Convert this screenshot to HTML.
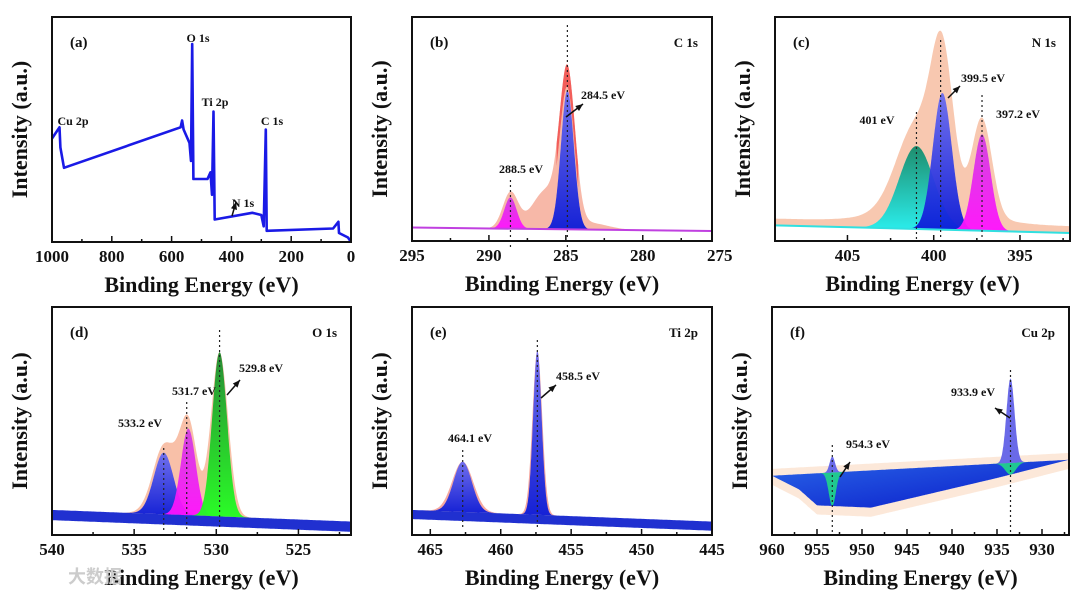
<!DOCTYPE html>
<html><head><meta charset="utf-8"><style>
body{margin:0;background:#fff;width:1080px;height:597px;overflow:hidden}
svg{display:block;font-family:"Liberation Serif",serif;font-weight:bold}
</style></head><body>
<svg id="fig" width="1080" height="597" viewBox="0 0 1080 597">
<defs>
<linearGradient id="gBlue" x1="0" y1="0" x2="0" y2="1"><stop offset="0" stop-color="#6a6cf0"/><stop offset="1" stop-color="#0a1ad8"/></linearGradient>
<linearGradient id="gMag" x1="0" y1="0" x2="0" y2="1"><stop offset="0" stop-color="#d040e0"/><stop offset="1" stop-color="#ff10ff"/></linearGradient>
<linearGradient id="gGreen" x1="0" y1="0" x2="0" y2="1"><stop offset="0" stop-color="#1e8a30"/><stop offset="1" stop-color="#20ff20"/></linearGradient>
<linearGradient id="gTeal" x1="0" y1="0" x2="0" y2="1"><stop offset="0" stop-color="#138a6a"/><stop offset="1" stop-color="#20f0f0"/></linearGradient>
<linearGradient id="gBg" x1="0" y1="0" x2="1" y2="1"><stop offset="0" stop-color="#2a66e8"/><stop offset="1" stop-color="#0818c8"/></linearGradient>
</defs>
</svg>
<script>
// ---- data ----
const surveyE=[1000,975,972,960,570,565,560,540,535,531,527,480,470,465,460,456,330,300,292,285,282,60,42,40,10,0];
const surveyI=[0.46,0.51,0.42,0.33,0.51,0.54,0.50,0.44,0.36,0.88,0.28,0.28,0.31,0.21,0.58,0.10,0.13,0.12,0.07,0.50,0.05,0.06,0.09,0.04,0.02,0.0];
const cPeaks=[284.9,288.6], cHeights=[0.62,0.14], cSig=[0.42,0.4];
const nPeaks=[401,399.5,397.2], nHeights=[0.37,0.61,0.43], nSig=[1.0,0.55,0.5];
const oPeaks=[533.2,531.7,529.8], oHeights=[0.27,0.38,0.72], oSig=[0.6,0.45,0.45];
const tPeaks=[462.7,457.4], tHeights=[0.22,0.72], tSig=[0.65,0.3];
const cuPeaks=[953.3,933.5], cuHeights=[0.07,0.37], cuSig=[0.3,0.45];
const cuBgE=[960,957,955,949,935,927], cuBgLow=[0.26,0.20,0.13,0.12,0.25,0.33];

const svg=document.getElementById('fig');
const NS='http://www.w3.org/2000/svg';
function mk(tag,attrs,parent){const e=document.createElementNS(NS,tag);for(const k in attrs)e.setAttribute(k,attrs[k]);(parent||svg).appendChild(e);return e;}
function txt(s,x,y,size,anchor,parent,rot){const t=mk('text',{x:x,y:y,'font-size':size,'text-anchor':anchor||'middle',fill:'#111'},parent);if(rot)t.setAttribute('transform',`rotate(-90 ${x} ${y})`);t.textContent=s;return t;}

function panel(id,L,R,T,B,emax,emin,ticks,letter,title){
  const g=mk('g',{});
  
  
  const xs=e=>L+(emax-e)/(emax-emin)*(R-L);
  const ys=v=>B-v*(B-T);
  return {g,xs,ys,finish(){
    const box=mk('rect',{x:L,y:T,width:R-L,height:B-T,fill:'none',stroke:'#111','stroke-width':2},g);
    
    
    const step=ticks.length>1?(ticks[0]-ticks[1])/2:0;
    for(let e=ticks[0];e>=emin-1e-6;e-=step){const x=xs(e);if(x<L-1||x>R+1)continue;mk('line',{x1:x,x2:x,y1:B,y2:B-(ticks.includes(Math.round(e*10)/10)?6:3),stroke:'#111','stroke-width':1.5},g);}
    ticks.forEach(e=>{const t=txt(String(e),xs(e),B+20,17,'middle',g);});
    const xt=txt('Binding Energy (eV)',(L+R)/2,B+50,22,'middle',g);
    
    const yt=txt('Intensity (a.u.)',L-25,(T+B)/2,22,'middle',g,true);
    
    const lt=txt('('+letter+')',L+18,T+30,15,'start',g);
    
    if(title){const tt=txt(title,R-14,T+30,13,'end',g);}
  }};
}
function gauss(e,c,h,s){return h*Math.exp(-0.5*((e-c)/s)**2);}
function areaPath(p,emax,emin,fTop,fBot){let d='';const n=300;for(let i=0;i<=n;i++){const e=emax-(emax-emin)*i/n;d+=(i?'L':'M')+p.xs(e).toFixed(1)+','+p.ys(fTop(e)).toFixed(1);}for(let i=n;i>=0;i--){const e=emax-(emax-emin)*i/n;d+='L'+p.xs(e).toFixed(1)+','+p.ys(fBot(e)).toFixed(1);}return d+'Z';}
function drawPeaks(p,emax,emin,peaks,hs,ss,fills,bg,env,envColor){
  const ep=mk('path',{d:areaPath(p,emax,emin,env,bg),fill:envColor||'#f7b8a8'},p.g);
  
  peaks.forEach((c,i)=>{
    const lo=Math.max(emin,c-4*ss[i]),hi=Math.min(emax,c+4*ss[i]);
    const pk=mk('path',{d:areaPath(p,hi,lo,e=>bg(e)+gauss(e,c,hs[i],ss[i]),bg),fill:fills[i],opacity:0.95},p.g);
    
  });
}
const sumP=(e,peaks,hs,ss,k)=>peaks.reduce((a,c,i)=>a+gauss(e,c,hs[i],ss[i]*k),0);
function vdot(p,e,y1,y2){const l=mk('line',{x1:p.xs(e),x2:p.xs(e),y1:y1,y2:y2,stroke:'#222','stroke-width':1.2,'stroke-dasharray':'2,3'},p.g);}
function lab(p,s,x,y){const t=txt(s,x,y,12,'middle',p.g);}
function arrow(p,x1,y1,x2,y2){const l=mk('line',{x1,y1,x2,y2,stroke:'#111','stroke-width':1.5},p.g);const a=Math.atan2(y2-y1,x2-x1);mk('polygon',{points:`${x2},${y2} ${x2-8*Math.cos(a-0.4)},${y2-8*Math.sin(a-0.4)} ${x2-8*Math.cos(a+0.4)},${y2-8*Math.sin(a+0.4)}`,fill:'#111'},p.g);}

// (a) survey
{const p=panel('a',52,351,17,242,1000,0,[1000,800,600,400,200,0],'a');
 let d='';surveyE.forEach((e,i)=>{d+=(i?'L':'M')+p.xs(e).toFixed(1)+','+p.ys(surveyI[i]).toFixed(1);});
 const l=mk('path',{d,fill:'none',stroke:'#1a1ae6','stroke-width':2.6,'stroke-linejoin':'round'},p.g);
 lab(p,'O 1s',198,42);lab(p,'Ti 2p',215,106);lab(p,'C 1s',272,125);lab(p,'Cu 2p',73,125);lab(p,'N 1s',243,207);
 arrow(p,232,216,236,202);p.finish();}
// (b) C 1s
{const p=panel('b',412,712,17,241,295,275.5,[295,290,285,280,275],'b','C 1s');
 const bg=e=>0.06-(295-e)*0.0008;
 const env=e=>bg(e)+gauss(e,284.9,0.67,0.5)+gauss(e,286.3,0.17,0.9)+gauss(e,288.6,0.16,0.5)+gauss(e,283.5,0.03,1.2);
 drawPeaks(p,295,275.5,cPeaks,cHeights,cSig,['url(#gBlue)','url(#gMag)'],bg,env);
 mk('path',{d:areaPath(p,285.6,284.2,e=>env(e),e=>Math.max(bg(e),env(e)-0.1)),fill:'#f04040',opacity:0.75},p.g);
 mk('line',{x1:p.xs(295),y1:p.ys(bg(295)),x2:p.xs(275.5),y2:p.ys(bg(275.5)),stroke:'#c040e0','stroke-width':2},p.g);
 vdot(p,284.9,25,250);vdot(p,288.6,180,250);lab(p,'284.5 eV',603,99);lab(p,'288.5 eV',521,173);arrow(p,566,117,583,104);p.finish();}
// (c) N 1s
{const p=panel('c',775,1070,17,241,409.2,392.1,[405,400,395],'c','N 1s');
 const bg=e=>0.07-(409.2-e)*0.002;
 const env=e=>bg(e)+0.03+sumP(e,nPeaks,nHeights,nSig,1.15)+gauss(e,400,0.08,2.5);
 drawPeaks(p,409.2,392.1,nPeaks,nHeights,nSig,['url(#gTeal)','url(#gBlue)','url(#gMag)'],bg,env,'#f8c8b0');
 mk('line',{x1:p.xs(409.2),y1:p.ys(bg(409.2)),x2:p.xs(392.1),y2:p.ys(bg(392.1)),stroke:'#30e0e0','stroke-width':2},p.g);
 vdot(p,401,112,240);vdot(p,399.6,40,240);vdot(p,397.2,95,240);
 lab(p,'401 eV',877,124);lab(p,'399.5 eV',983,82);lab(p,'397.2 eV',1018,118);arrow(p,948,98,960,86);p.finish();}
// (d) O 1s
{const p=panel('d',52,351,307,535,540,521.8,[540,535,530,525],'d','O 1s');
 const bg=e=>0.11-(540-e)*0.0028;
 const env=e=>bg(e)+sumP(e,oPeaks,oHeights,oSig,1.15)+gauss(e,532.5,0.05,0.8);
 drawPeaks(p,540,521.8,oPeaks,oHeights,oSig,['url(#gBlue)','url(#gMag)','url(#gGreen)'],bg,env,'#f8c0a8');
 mk('path',{d:areaPath(p,540,521.8,bg,e=>Math.max(0,bg(e)-0.045)),fill:'#2030d0'},p.g);
 vdot(p,533.2,448,530);vdot(p,531.8,402,530);vdot(p,529.8,330,530);
 lab(p,'533.2 eV',140,427);lab(p,'531.7 eV',194,395);lab(p,'529.8 eV',261,372);arrow(p,227,395,240,380);p.finish();}
// (e) Ti 2p
{const p=panel('e',412,712,307,535,466.3,445,[465,460,455,450,445],'e','Ti 2p');
 const bg=e=>0.11-(466.3-e)*0.0024;
 const env=e=>bg(e)+sumP(e,tPeaks,tHeights,tSig,1.15);
 drawPeaks(p,466.3,445,tPeaks,tHeights,tSig,['url(#gBlue)','url(#gBlue)'],bg,env,'#f5a8a0');
 mk('path',{d:areaPath(p,466.3,445,bg,e=>Math.max(0,bg(e)-0.04)),fill:'#2030d0'},p.g);
 vdot(p,462.7,450,530);vdot(p,457.4,340,530);
 lab(p,'464.1 eV',470,442);lab(p,'458.5 eV',578,380);arrow(p,541,398,556,385);p.finish();}
// (f) Cu 2p
{const p=panel('f',772,1069,307,535,960,927,[960,955,950,945,940,935,930],'f','Cu 2p');
 const low=e=>{for(let i=0;i<cuBgE.length-1;i++){if(e<=cuBgE[i]&&e>=cuBgE[i+1]){const t=(cuBgE[i]-e)/(cuBgE[i]-cuBgE[i+1]);return cuBgLow[i]+t*(cuBgLow[i+1]-cuBgLow[i]);}}return cuBgLow[cuBgLow.length-1];};
 const top=e=>0.26+(960-e)/33*0.07;
 mk('path',{d:areaPath(p,960,927,e=>top(e)+0.03,e=>Math.max(0.02,low(e)-0.04)),fill:'#fbe2d0',opacity:0.8},p.g);
 const bgp=mk('path',{d:areaPath(p,960,927,top,low),fill:'url(#gBg)'},p.g);
 
 cuPeaks.forEach((c,i)=>{
   const s=cuSig[i];
   mk('path',{d:areaPath(p,c+4*s*1.3,c-4*s*1.3,top,e=>Math.max(low(e),top(e)-gauss(e,c,top(c)-low(c),s*1.3))),fill:'#20c890'},p.g);
   const pk=mk('path',{d:areaPath(p,c+4*s,c-4*s,e=>top(e)+gauss(e,c,cuHeights[i],s),top),fill:'#6a6ae8'},p.g);
   
 });
 vdot(p,953.3,445,535);vdot(p,933.5,370,535);
 lab(p,'954.3 eV',868,448);lab(p,'933.9 eV',973,396);arrow(p,840,477,850,462);arrow(p,1010,418,995,408);p.finish();}
// watermark
const wm=txt('大数据',95,583,18,'middle');wm.setAttribute('fill','#ccc');wm.setAttribute('font-family','"Noto Sans CJK SC",sans-serif');

</script>
</body></html>
